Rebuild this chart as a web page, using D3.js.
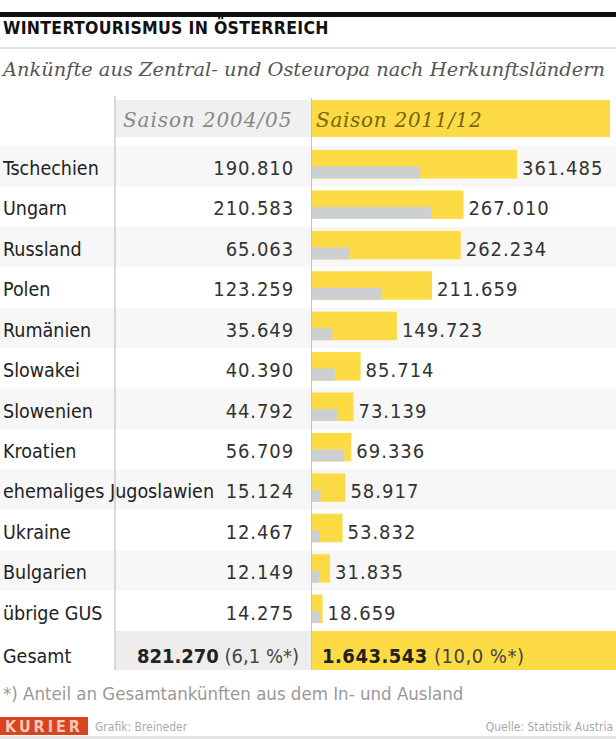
<!DOCTYPE html>
<html>
<head>
<meta charset="utf-8">
<script src="https://cdn.jsdelivr.net/npm/d3@7"></script>
<style>
  body { margin: 0; background: #fff; }
  svg { display: block; }
  .narrow { font-family: "DejaVu Sans Condensed", "Liberation Sans Narrow", sans-serif; }
  .serif { font-family: "DejaVu Serif", "Liberation Serif", serif; font-style: italic; }
</style>
</head>
<body>
<div id="chart"></div>
<script>
const countries = ["Tschechien", "Ungarn", "Russland", "Polen", "Rumänien", "Slowakei",
  "Slowenien", "Kroatien", "ehemaliges Jugoslawien", "Ukraine", "Bulgarien", "übrige GUS"];
const season0405 = [190810, 210583, 65063, 123259, 35649, 40390, 44792, 56709, 15124, 12467, 12149, 14275];
const season1112 = [361485, 267010, 262234, 211659, 149723, 85714, 73139, 69336, 58917, 53832, 31835, 18659];
const seasons = ["Saison 2004/05", "Saison 2011/12"];
const totals = [821270, 1643543];
const shares = ["6,1", "10,0"];

const W = 616, H = 739;
const yellow = "#fcdb45", barGray = "#cdd0d0";
const fmt = d3.formatLocale({ decimal: ",", thousands: ".", grouping: [3] }).format(",d");

const svg = d3.select("#chart").append("svg").attr("width", W).attr("height", H);

// header block
svg.append("rect").attr("x", 0).attr("y", 12).attr("width", W).attr("height", 5).attr("fill", "#111");
svg.append("text").attr("class", "narrow")
  .attr("x", 3).attr("y", 34)
  .attr("font-size", 17.5).attr("font-weight", "bold").attr("letter-spacing", 0.3)
  .attr("fill", "#111")
  .text("WINTERTOURISMUS IN ÖSTERREICH");
svg.append("rect").attr("x", 0).attr("y", 47.5).attr("width", W).attr("height", 1.2).attr("fill", "#ccc");
svg.append("text").attr("class", "serif")
  .attr("x", 3).attr("y", 76)
  .attr("font-size", 19.4).attr("fill", "#555")
  .text("Ankünfte aus Zentral- und Osteuropa nach Herkunftsländern");

// layout
const col1 = 115, col2 = 312, valRight = 294;
const y = d3.scaleBand().domain(countries).range([146, 631]);
const x = d3.scaleLinear().domain([0, d3.max(season1112)]).range([0, 205]);

// column headers
svg.append("rect").attr("x", col1).attr("y", 100).attr("width", col2 - col1).attr("height", 37).attr("fill", "#f0f0f0");
svg.append("rect").attr("x", col2).attr("y", 100).attr("width", 298).attr("height", 37).attr("fill", yellow);
svg.append("text").attr("class", "serif").attr("x", 123).attr("y", 127)
  .attr("font-size", 20).attr("letter-spacing", 0.9).attr("fill", "#888").text(seasons[0]);
svg.append("text").attr("class", "serif").attr("x", 316).attr("y", 127)
  .attr("font-size", 20).attr("letter-spacing", 0.7).attr("fill", "#7a6410").text(seasons[1]);

// alternating row bands
svg.selectAll("rect.band")
  .data(countries.filter((d, i) => i % 2 === 0))
  .enter().append("rect")
  .attr("class", "band")
  .attr("x", 0).attr("y", (d) => y(d))
  .attr("width", W).attr("height", y.bandwidth())
  .attr("fill", "#f7f7f7");

const rows = svg.selectAll("g.row")
  .data(countries.map((c, i) => ({ c, a: season0405[i], b: season1112[i] })))
  .enter().append("g").attr("class", "row")
  .attr("transform", (d) => `translate(0,${y(d.c)})`);

rows.append("rect").attr("x", col2).attr("y", 4)
  .attr("width", (d) => x(d.b)).attr("height", 28.5).attr("fill", yellow);
rows.append("rect").attr("x", col2).attr("y", 20.5)
  .attr("width", (d) => x(d.a)).attr("height", 12).attr("fill", barGray);

rows.append("text").attr("class", "narrow")
  .attr("x", 3).attr("y", 29).attr("font-size", 19.5).attr("fill", "#222")
  .text((d) => d.c);
rows.append("text").attr("class", "narrow")
  .attr("x", valRight).attr("y", 29).attr("text-anchor", "end")
  .attr("font-size", 20).attr("letter-spacing", 0.9).attr("fill", "#333")
  .text((d) => fmt(d.a));
rows.append("text").attr("class", "narrow")
  .attr("x", (d) => col2 + x(d.b) + 5).attr("y", 29)
  .attr("font-size", 20).attr("letter-spacing", 1).attr("fill", "#333")
  .text((d) => fmt(d.b));

// total row
svg.append("rect").attr("x", col1).attr("y", 631).attr("width", col2 - col1).attr("height", 39).attr("fill", "#ededed");
svg.append("rect").attr("x", col2).attr("y", 631).attr("width", W - col2).attr("height", 39).attr("fill", yellow);
svg.append("text").attr("class", "narrow").attr("x", 3).attr("y", 663)
  .attr("font-size", 19.5).attr("fill", "#222").text("Gesamt");

const t1 = svg.append("text").attr("class", "narrow").attr("x", 299).attr("y", 663)
  .attr("text-anchor", "end").attr("font-size", 20).attr("fill", "#222");
t1.append("tspan").attr("font-weight", "bold").text(fmt(totals[0]));
t1.append("tspan").attr("fill", "#444").text(` (${shares[0]} %*)`);

const t2 = svg.append("text").attr("class", "narrow").attr("x", 322).attr("y", 663)
  .attr("font-size", 20).attr("fill", "#222").attr("letter-spacing", 0.5);
t2.append("tspan").attr("font-weight", "bold").text(fmt(totals[1]));
t2.append("tspan").attr("fill", "#444").text(` (${shares[1]} %*)`);

// vertical separators
svg.append("line").attr("x1", col1).attr("x2", col1).attr("y1", 96).attr("y2", 670)
  .attr("stroke", "#c4c4c4").attr("stroke-width", 1.2);
svg.append("line").attr("x1", col2 - 0.5).attr("x2", col2 - 0.5).attr("y1", 98).attr("y2", 670)
  .attr("stroke", "#c4c4c4").attr("stroke-width", 1);

// footnote + footer
svg.append("text").attr("class", "narrow").attr("x", 3).attr("y", 700)
  .attr("font-size", 18.5).attr("fill", "#999")
  .text("*) Anteil an Gesamtankünften aus dem In- und Ausland");

svg.append("rect").attr("x", 0).attr("y", 717).attr("width", 88).attr("height", 18).attr("fill", "#d9441f");
svg.append("text").attr("class", "narrow").attr("x", 44).attr("y", 732)
  .attr("text-anchor", "middle").attr("font-size", 16).attr("font-weight", "bold")
  .attr("letter-spacing", 3).attr("fill", "#f6c9b8").text("KURIER");
svg.append("text").attr("class", "narrow").attr("x", 95).attr("y", 731)
  .attr("font-size", 12).attr("fill", "#aaa").text("Grafik: Breineder");
svg.append("text").attr("class", "narrow").attr("x", 613).attr("y", 731)
  .attr("text-anchor", "end")
  .attr("font-size", 12).attr("fill", "#aaa").text("Quelle: Statistik Austria");
svg.append("rect").attr("x", 0).attr("y", 736).attr("width", W).attr("height", 3).attr("fill", "#e4e4e4");
</script>
</body>
</html>
